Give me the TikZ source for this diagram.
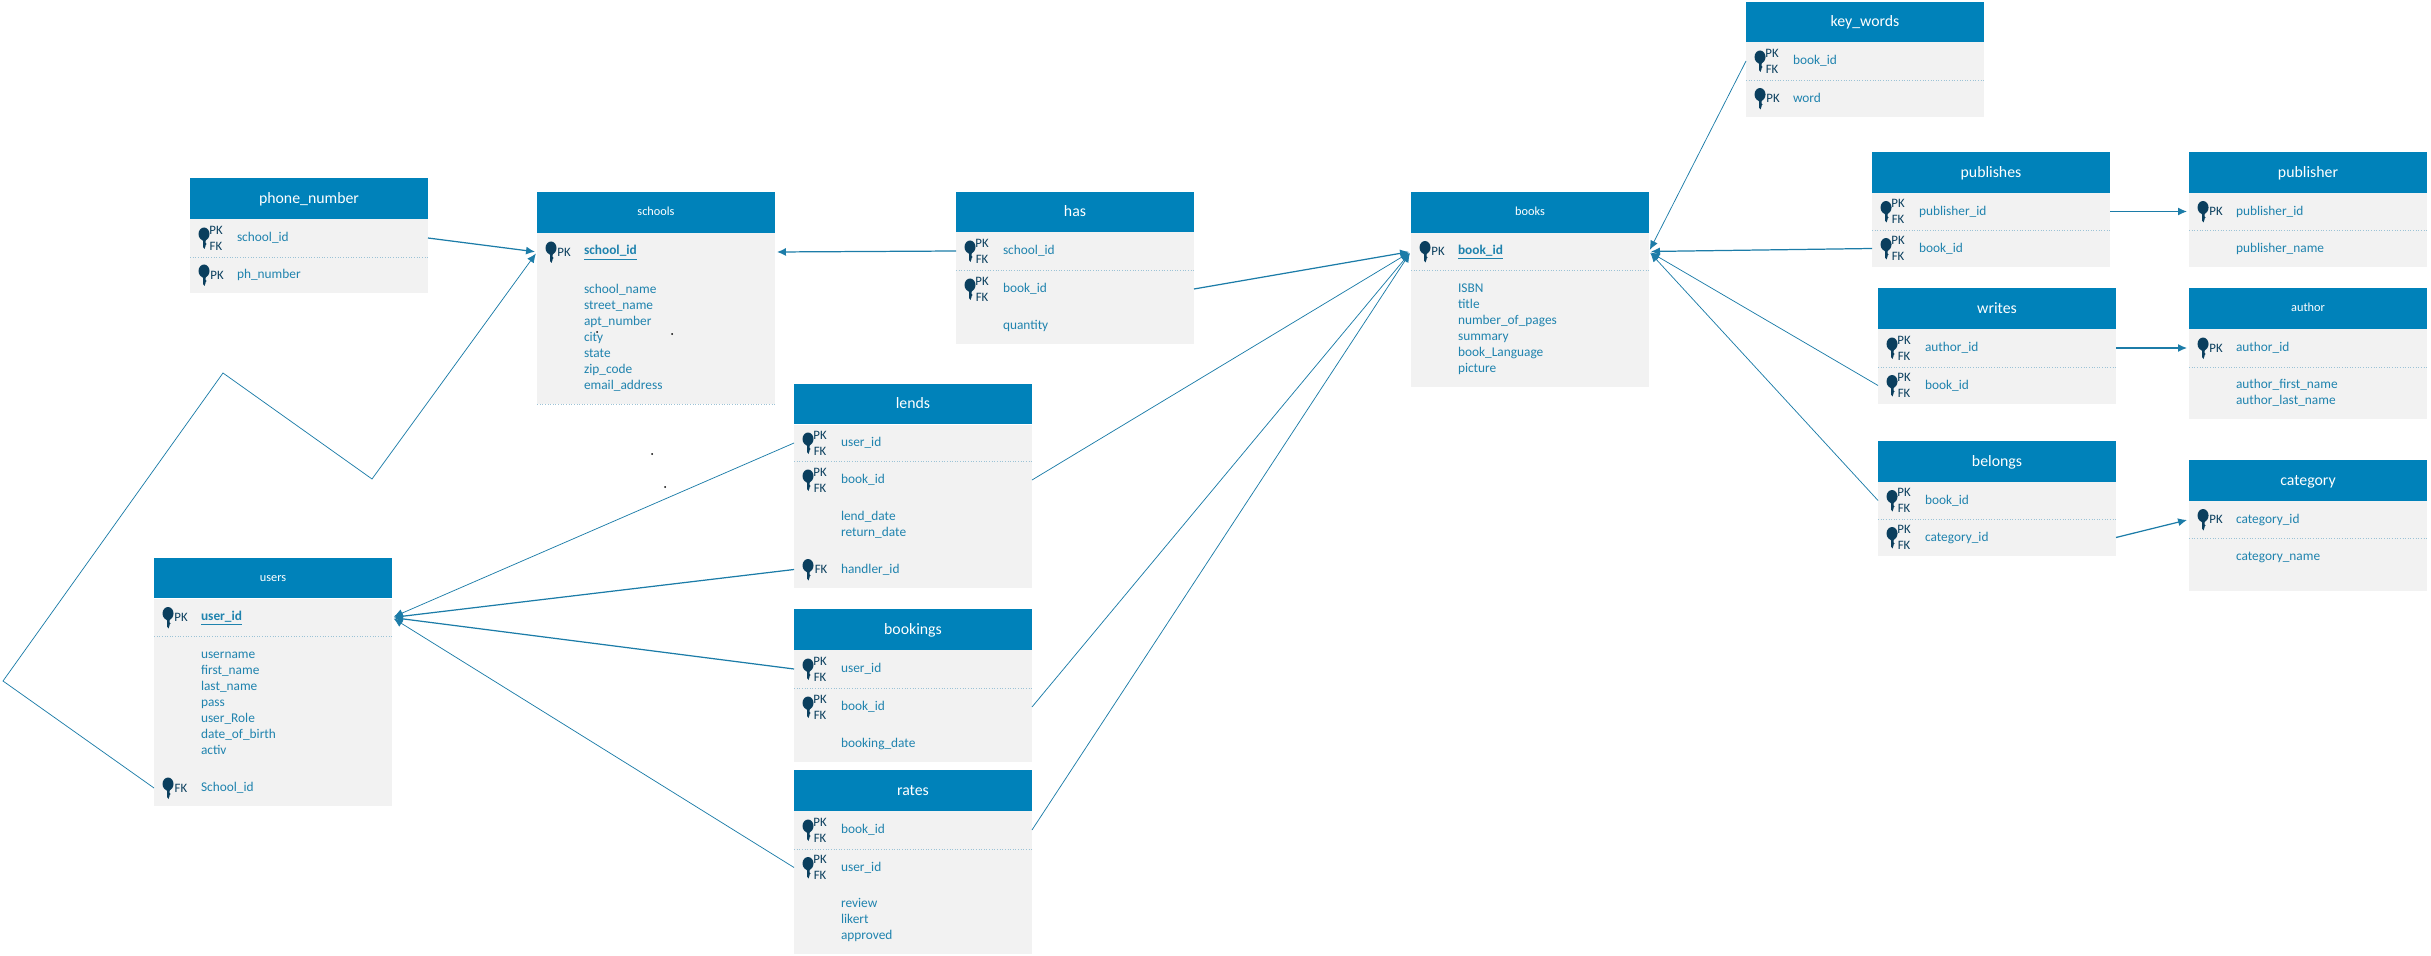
\documentclass[tikz,border=0pt]{standalone}
\usepackage{fontspec}
\setmainfont{Carlito}
\usetikzlibrary{arrows.meta}
\definecolor{headblue}{HTML}{0082BA}
\definecolor{bodygray}{HTML}{F2F2F2}
\definecolor{fieldblue}{HTML}{1F83AE}
\definecolor{linkblue}{HTML}{1C7CA8}
\definecolor{sepblue}{HTML}{9CC3D6}
\definecolor{keynavy}{HTML}{0B3F5E}
\tikzset{
  headbox/.style={fill=headblue,text=white,inner sep=0,outer sep=0,minimum width=4.76cm,minimum height=.82cm,text height=.22cm,text depth=.02cm,font=\fontsize{9}{11}\selectfont},
  smallhead/.style={headbox,text height=.14cm,text depth=.02cm,font=\fontsize{7}{9}\selectfont},
  rowbox/.style={fill=bodygray,text=fieldblue,inner sep=0,outer sep=0,minimum width=4.76cm,text width=4.76cm,align=left,minimum height=#1*.02cm,font=\fontsize{7.6}{9.1}\selectfont,execute at begin node={\leftskip=.94cm\relax\leavevmode\rule{0pt}{6.4pt}},execute at end node={\rule[-2pt]{0pt}{2pt}}},
  keytag/.style={text=keynavy,inner sep=0,font=\fontsize{7.3}{9}\selectfont},
  sepline/.style={sepblue,line width=.5pt,densely dotted},
  link/.style={->,linkblue,line width=.42pt,shorten >=.04cm},
  heavylink/.style={link,line width=.7pt},
  keyshape/.pic={
    \fill[keynavy] (14,-4) ellipse [x radius=5.5,y radius=6.5];
    \fill[keynavy] (10.5,-1)--(17.5,-1)--(15.5,3)--(15.5,5)--(16.5,6)--(15.5,7)--(15.5,8)--(14.5,11)--(13,9)--(13,3)--cycle;
  },
  pkfk/.pic={
    \pic {keyshape};
    \node[keytag] (-pk) at (26,-8) {PK};
    \node[keytag] (-fk) at (26,8) {FK};
  },
  pkonly/.pic={
    \pic {keyshape};
    \node[keytag] (-pk) at (27,0) {PK};
  },
  fkonly/.pic={
    \pic {keyshape};
    \node[keytag] (-fk) at (27,0) {FK};
  }
}
\begin{document}
\begin{tikzpicture}[>={Latex[length=.18cm,width=.16cm]},x=.02cm,y=-.02cm]
\useasboundingbox (0,0) rectangle (2431,956);

%phone_number
\node[headbox] (phone) at (309,198.5) {phone\_number};
\node[rowbox=38] (phonesid) at (309,238) {school\_id};
\node[rowbox=36] (phonenum) at (309,275) {ph\_number};
\pic (kphone1) at (phonesid.west) {pkfk};
\pic (kphone2) at (phonenum.west) {pkonly};
\draw[sepline] (phonesid.south west) -- (phonesid.south east);

%schools
\node[smallhead] (schools) at (656,212.5) {schools};
\node[rowbox=38] (schoolsid) at (656,252) {\underline{\textbf{school\_id}}};
\node[rowbox=133] (schoolsattr) at (656,337.5) {school\_name\\street\_name\\apt\_number\\city\\state\\zip\_code\\email\_address};
\pic (kschool) at (schoolsid.west) {pkonly};
\draw[sepline] (schoolsattr.south west) -- (schoolsattr.south east);

%users
\node[smallhead] (users) at (273,578) {users};
\node[rowbox=37] (usersid) at (273,617.5) {\underline{\textbf{user\_id}}};
\node[rowbox=134] (usersattr) at (273,703) {username\\first\_name\\last\_name\\pass\\user\_Role\\date\_of\_birth\\activ};
\node[rowbox=36] (usersschool) at (273,788) {School\_id};
\pic (kuser1) at (usersid.west) {pkonly};
\pic (kuser2) at (usersschool.west) {fkonly};
\draw[sepline] (usersid.south west) -- (usersid.south east);

%has
\node[headbox] (has) at (1075,212) {has};
\node[rowbox=38] (hassid) at (1075,251) {school\_id};
\node[rowbox=38] (hasbid) at (1075,289) {book\_id};
\node[rowbox=36] (hasqty) at (1075,326) {quantity};
\pic (khas1) at (hassid.west) {pkfk};
\pic (khas2) at (hasbid.west) {pkfk};
\draw[sepline] (hassid.south west) -- (hassid.south east);

%books
\node[smallhead] (books) at (1530,212.5) {books};
\node[rowbox=37] (booksid) at (1530,251.5) {\underline{\textbf{book\_id}}};
\node[rowbox=117] (booksattr) at (1530,328.5) {ISBN\\title\\number\_of\_pages\\summary\\book\_Language\\picture};
\pic (kbook) at (booksid.west) {pkonly};
\draw[sepline] (booksid.south west) -- (booksid.south east);

%lends
\node[headbox] (lends) at (913,404) {lends};
\node[rowbox=36] (lendsuid) at (913,443) {user\_id};
\node[rowbox=38] (lendsbid) at (913,480) {book\_id};
\node[rowbox=52] (lendsdate) at (913,525) {lend\_date\\return\_date};
\node[rowbox=37] (lendshid) at (913,569.5) {handler\_id};
\pic (klend1) at (lendsuid.west) {pkfk};
\pic (klend2) at (lendsbid.west) {pkfk};
\pic (klend3) at (lendshid.west) {fkonly};
\draw[sepline] (lendsuid.south west) -- (lendsuid.south east);

%bookings
\node[headbox] (bookings) at (913,629.5) {bookings};
\node[rowbox=38] (bookinguid) at (913,669) {user\_id};
\node[rowbox=38] (bookingbid) at (913,707) {book\_id};
\node[rowbox=36] (bookingdate) at (913,744) {booking\_date};
\pic (kbooking1) at (bookinguid.west) {pkfk};
\pic (kbooking2) at (bookingbid.west) {pkfk};
\draw[sepline] (bookinguid.south west) -- (bookinguid.south east);

%rates
\node[headbox] (rates) at (913,790.5) {rates};
\node[rowbox=38] (ratesbid) at (913,830) {book\_id};
\node[rowbox=37] (ratesuid) at (913,867.5) {user\_id};
\node[rowbox=68] (ratesattr) at (913,920) {review\\likert\\approved};
\pic (krate1) at (ratesbid.west) {pkfk};
\pic (krate2) at (ratesuid.west) {pkfk};
\draw[sepline] (ratesbid.south west) -- (ratesbid.south east);

%key_words
\node[headbox] (keywords) at (1865,22) {key\_words};
\node[rowbox=38] (keybid) at (1865,61) {book\_id};
\node[rowbox=37] (keyword) at (1865,98.5) {word};
\pic (kkey1) at (keybid.west) {pkfk};
\pic (kkey2) at (keyword.west) {pkonly};
\draw[sepline] (keybid.south west) -- (keybid.south east);

%publishes
\node[headbox] (publishes) at (1991,172.5) {publishes};
\node[rowbox=37] (pubspid) at (1991,211.5) {publisher\_id};
\node[rowbox=37] (pubsbid) at (1991,248.5) {book\_id};
\pic (kpubs1) at (pubspid.west) {pkfk};
\pic (kpubs2) at (pubsbid.west) {pkfk};
\draw[sepline] (pubspid.south west) -- (pubspid.south east);

%publisher
\node[headbox] (publisher) at (2308,172.5) {publisher};
\node[rowbox=37] (pubrid) at (2308,211.5) {publisher\_id};
\node[rowbox=37] (pubrname) at (2308,248.5) {publisher\_name};
\pic (kpubr) at (pubrid.west) {pkonly};
\draw[sepline] (pubrid.south west) -- (pubrid.south east);

%writes
\node[headbox] (writes) at (1997,308.5) {writes};
\node[rowbox=38] (writesaid) at (1997,348) {author\_id};
\node[rowbox=37] (writesbid) at (1997,385.5) {book\_id};
\pic (kwrite1) at (writesaid.west) {pkfk};
\pic (kwrite2) at (writesbid.west) {pkfk};
\draw[sepline] (writesaid.south west) -- (writesaid.south east);

%author
\node[smallhead] (author) at (2308,308.5) {author};
\node[rowbox=38] (authorid) at (2308,348) {author\_id};
\node[rowbox=52] (authorname) at (2308,393) {author\_first\_name\\author\_last\_name};
\pic (kauthor) at (authorid.west) {pkonly};
\draw[sepline] (authorid.south west) -- (authorid.south east);

%belongs
\node[headbox] (belongs) at (1997,461.5) {belongs};
\node[rowbox=37] (belongsbid) at (1997,500.5) {book\_id};
\node[rowbox=37] (belongscid) at (1997,537.5) {category\_id};
\pic (kbelong1) at (belongsbid.west) {pkfk};
\pic (kbelong2) at (belongscid.west) {pkfk};
\draw[sepline] (belongsbid.south west) -- (belongsbid.south east);

%category
\node[headbox] (category) at (2308,480.5) {category};
\node[rowbox=37] (categoryid) at (2308,519.5) {category\_id};
\node[rowbox=53] (categoryname) at (2308,564.5) {category\_name\\~};
\pic (kcategory) at (categoryid.west) {pkonly};
\draw[sepline] (categoryid.south west) -- (categoryid.south east);

%the links
\coordinate (bend1) at (3,681);
\coordinate (bend2) at (223,373);
\coordinate (bend3) at (372,479);
\draw[heavylink] (phonesid.east) -- (schoolsid.west);
\draw[link] (usersschool.west) -- (bend1) -- (bend2) -- (bend3) -- (schoolsid.west);
\draw[heavylink] (hassid.west) -- (schoolsid.east);
\draw[heavylink] (hasbid.east) -- (booksid.west);
\draw[link] (lendsbid.east) -- (booksid.west);
\draw[link] (bookingbid.east) -- (booksid.west);
\draw[link] (ratesbid.east) -- (booksid.west);
\draw[link] (lendsuid.west) -- (usersid.east);
\draw[heavylink] (lendshid.west) -- (usersid.east);
\draw[heavylink] (bookinguid.west) -- (usersid.east);
\draw[link] (ratesuid.west) -- (usersid.east);
\draw[link] (keybid.west) -- (booksid.east);
\draw[heavylink] (pubsbid.west) -- (booksid.east);
\draw[link] (writesbid.west) -- (booksid.east);
\draw[link] (belongsbid.west) -- (booksid.east);
\draw[heavylink] (pubspid.east) -- (pubrid.west);
\draw[heavylink] (writesaid.east) -- (authorid.west);
\draw[heavylink] (belongscid.east) -- (categoryid.west);

%the stray dots
\fill (597,332) circle (1);
\fill (672,334) circle (1);
\fill (652,454) circle (1);
\fill (665,487) circle (1);
\end{tikzpicture}
\end{document}
